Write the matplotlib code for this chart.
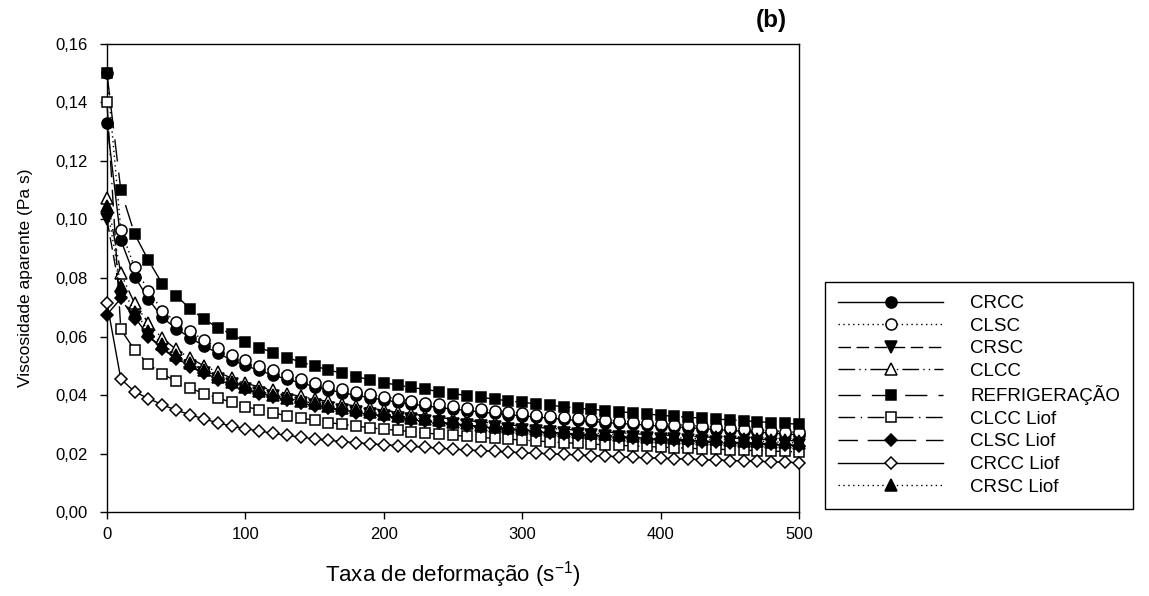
import numpy as np
import matplotlib
matplotlib.use('Agg')
import matplotlib.pyplot as plt
from matplotlib.ticker import FuncFormatter

plt.rcParams['font.family'] = ['Liberation Sans', 'DejaVu Sans']
plt.rcParams['mathtext.fontset'] = 'custom'
plt.rcParams['mathtext.rm'] = 'Liberation Sans'
plt.rcParams['mathtext.default'] = 'regular'

# shear rate (s^-1)
taxa = np.arange(0, 501, 10)

crcc = [0.1330, 0.0930, 0.0805, 0.0728, 0.0665, 0.0627, 0.0596, 0.0568, 0.0543, 0.0520,
        0.0501, 0.0484, 0.0468, 0.0454, 0.0441, 0.0429, 0.0418, 0.0408, 0.0399, 0.0391,
        0.0383, 0.0376, 0.0369, 0.0363, 0.0357, 0.0352, 0.0347, 0.0342, 0.0337, 0.0333,
        0.0329, 0.0325, 0.0321, 0.0317, 0.0313, 0.0310, 0.0306, 0.0303, 0.0300, 0.0297,
        0.0294, 0.0291, 0.0288, 0.0285, 0.0282, 0.0279, 0.0276, 0.0273, 0.0270, 0.0267, 0.0264]
clsc = [0.1500, 0.0965, 0.0836, 0.0757, 0.0688, 0.0650, 0.0618, 0.0588, 0.0562, 0.0538,
        0.0518, 0.0500, 0.0484, 0.0469, 0.0455, 0.0442, 0.0430, 0.0420, 0.0411, 0.0402,
        0.0394, 0.0387, 0.0380, 0.0374, 0.0368, 0.0362, 0.0357, 0.0352, 0.0347, 0.0342,
        0.0338, 0.0333, 0.0329, 0.0325, 0.0321, 0.0318, 0.0314, 0.0311, 0.0308, 0.0305,
        0.0302, 0.0299, 0.0296, 0.0293, 0.0290, 0.0287, 0.0284, 0.0281, 0.0278, 0.0275, 0.0272]
crsc = [0.1000, 0.0736, 0.0665, 0.0603, 0.0560, 0.0526, 0.0499, 0.0476, 0.0455, 0.0437,
        0.0421, 0.0407, 0.0395, 0.0384, 0.0374, 0.0365, 0.0357, 0.0349, 0.0342, 0.0335,
        0.0329, 0.0323, 0.0317, 0.0312, 0.0307, 0.0302, 0.0297, 0.0293, 0.0289, 0.0285,
        0.0281, 0.0277, 0.0273, 0.0270, 0.0267, 0.0264, 0.0261, 0.0258, 0.0255, 0.0252,
        0.0250, 0.0248, 0.0246, 0.0243, 0.0241, 0.0239, 0.0237, 0.0235, 0.0233, 0.0231, 0.0229]
clcc = [0.1075, 0.0816, 0.0713, 0.0645, 0.0594, 0.0556, 0.0526, 0.0500, 0.0478, 0.0458,
        0.0440, 0.0428, 0.0416, 0.0405, 0.0395, 0.0386, 0.0378, 0.0370, 0.0362, 0.0355,
        0.0348, 0.0341, 0.0335, 0.0329, 0.0323, 0.0318, 0.0313, 0.0308, 0.0303, 0.0298,
        0.0294, 0.0290, 0.0286, 0.0283, 0.0280, 0.0277, 0.0274, 0.0271, 0.0268, 0.0265,
        0.0263, 0.0261, 0.0259, 0.0257, 0.0255, 0.0253, 0.0251, 0.0249, 0.0247, 0.0245, 0.0243]
refrig = [0.1500, 0.1100, 0.0950, 0.0860, 0.0780, 0.0740, 0.0695, 0.0660, 0.0630, 0.0608,
          0.0582, 0.0562, 0.0545, 0.0528, 0.0513, 0.0499, 0.0486, 0.0474, 0.0463, 0.0452,
          0.0442, 0.0434, 0.0426, 0.0419, 0.0412, 0.0405, 0.0398, 0.0392, 0.0386, 0.0380,
          0.0375, 0.0370, 0.0365, 0.0360, 0.0355, 0.0351, 0.0347, 0.0343, 0.0339, 0.0335,
          0.0331, 0.0327, 0.0324, 0.0321, 0.0318, 0.0315, 0.0312, 0.0309, 0.0306, 0.0303, 0.0300]
clcc_liof = [0.1400, 0.0624, 0.0554, 0.0506, 0.0472, 0.0447, 0.0424, 0.0405, 0.0390, 0.0375,
             0.0360, 0.0350, 0.0339, 0.0329, 0.0321, 0.0314, 0.0306, 0.0300, 0.0294, 0.0288,
             0.0283, 0.0279, 0.0275, 0.0270, 0.0266, 0.0262, 0.0259, 0.0255, 0.0252, 0.0249,
             0.0246, 0.0243, 0.0240, 0.0237, 0.0235, 0.0232, 0.0230, 0.0228, 0.0226, 0.0224,
             0.0222, 0.0220, 0.0218, 0.0216, 0.0215, 0.0213, 0.0211, 0.0210, 0.0208, 0.0207, 0.0205]
clsc_liof = [0.0675, 0.0730, 0.0660, 0.0600, 0.0558, 0.0524, 0.0497, 0.0474, 0.0453, 0.0435,
             0.0419, 0.0405, 0.0393, 0.0382, 0.0372, 0.0363, 0.0355, 0.0347, 0.0340, 0.0333,
             0.0327, 0.0321, 0.0315, 0.0310, 0.0305, 0.0300, 0.0295, 0.0291, 0.0287, 0.0283,
             0.0279, 0.0275, 0.0271, 0.0268, 0.0265, 0.0262, 0.0259, 0.0256, 0.0253, 0.0250,
             0.0248, 0.0246, 0.0244, 0.0241, 0.0239, 0.0237, 0.0235, 0.0233, 0.0231, 0.0229, 0.0227]
crcc_liof = [0.0715, 0.0455, 0.0411, 0.0388, 0.0367, 0.0348, 0.0333, 0.0318, 0.0305, 0.0294,
             0.0285, 0.0277, 0.0269, 0.0262, 0.0256, 0.0250, 0.0245, 0.0241, 0.0237, 0.0233,
             0.0230, 0.0227, 0.0224, 0.0221, 0.0218, 0.0215, 0.0212, 0.0210, 0.0207, 0.0205,
             0.0203, 0.0201, 0.0199, 0.0197, 0.0195, 0.0193, 0.0191, 0.0189, 0.0187, 0.0185,
             0.0184, 0.0182, 0.0181, 0.0179, 0.0178, 0.0176, 0.0175, 0.0173, 0.0172, 0.0170, 0.0169]
crsc_liof = [0.1045, 0.0772, 0.0685, 0.0620, 0.0574, 0.0538, 0.0510, 0.0485, 0.0463, 0.0444,
             0.0427, 0.0413, 0.0401, 0.0390, 0.0380, 0.0371, 0.0363, 0.0355, 0.0348, 0.0341,
             0.0335, 0.0329, 0.0323, 0.0318, 0.0313, 0.0308, 0.0303, 0.0299, 0.0295, 0.0291,
             0.0287, 0.0283, 0.0279, 0.0276, 0.0273, 0.0270, 0.0267, 0.0264, 0.0261, 0.0258,
             0.0256, 0.0254, 0.0252, 0.0250, 0.0248, 0.0246, 0.0244, 0.0242, 0.0240, 0.0238, 0.0236]

nomes = ['CRCC', 'CLSC', 'CRSC', 'CLCC', 'REFRIGERAÇÃO', 'CLCC Liof', 'CLSC Liof', 'CRCC Liof', 'CRSC Liof']
series = [crcc, clsc, crsc, clcc, refrig, clcc_liof, clsc_liof, crcc_liof, crsc_liof]

# (marker, size, filled, dash pattern)
estilos = [
    ('o', 8, True, '-'),
    ('o', 8, False, (0, (1, 2.5))),
    ('v', 8.5, True, (0, (9, 4))),
    ('^', 8.5, False, (0, (12, 3, 1, 3, 1, 3))),
    ('s', 7.5, True, (0, (16, 8))),
    ('s', 7.5, False, (0, (12, 4, 1, 4))),
    ('D', 6.3, True, (0, (14, 7))),
    ('D', 6.3, False, '-'),
    ('^', 8.5, True, (0, (1, 2.5))),
]

fig = plt.figure(figsize=(11.49, 5.96), dpi=100)
ax = fig.add_axes([0.0931, 0.1409, 0.6023, 0.7853])

for i, (nome, vals) in enumerate(zip(nomes, series)):
    mk, ms, cheio, ls = estilos[i]
    ax.plot(taxa, vals, linestyle=ls, color='black', linewidth=1,
            marker=mk, markersize=ms, markerfacecolor='black' if cheio else 'white',
            markeredgecolor='black', markeredgewidth=1.1, label=nome,
            clip_on=False, zorder=3 + i)

ax.set_xlim(0, 500)
ax.set_ylim(0, 0.16)
ax.set_xticks(range(0, 501, 100))
ax.set_yticks(np.arange(0, 0.161, 0.02))
ax.yaxis.set_major_formatter(FuncFormatter(lambda v, p: f'{v:.2f}'.replace('.', ',')))
ax.tick_params(direction='out', length=5, width=1, labelsize=12)
ax.tick_params(axis='y', pad=9)
ax.tick_params(axis='x', pad=6)
for s in ax.spines.values():
    s.set_linewidth(1)

ax.set_xlabel('Taxa de deformação (s$^{-1}$)', fontsize=16, labelpad=12)
ax.set_ylabel('Viscosidade aparente (Pa s)', fontsize=12.5, labelpad=16)
fig.text(0.671, 0.965, '(b)', fontsize=17.5, fontweight='bold', ha='center', va='center')

leg = fig.legend(loc='upper left', bbox_to_anchor=(825 / 1149, 1 - 282 / 596),
                 frameon=True, fancybox=False, edgecolor='black', framealpha=1,
                 fontsize=13.5, handlelength=5.6, handletextpad=1.45,
                 labelspacing=0.29, borderpad=0.7, borderaxespad=0)
leg.get_frame().set_linewidth(1)

fig.savefig('out.png', dpi=100)
